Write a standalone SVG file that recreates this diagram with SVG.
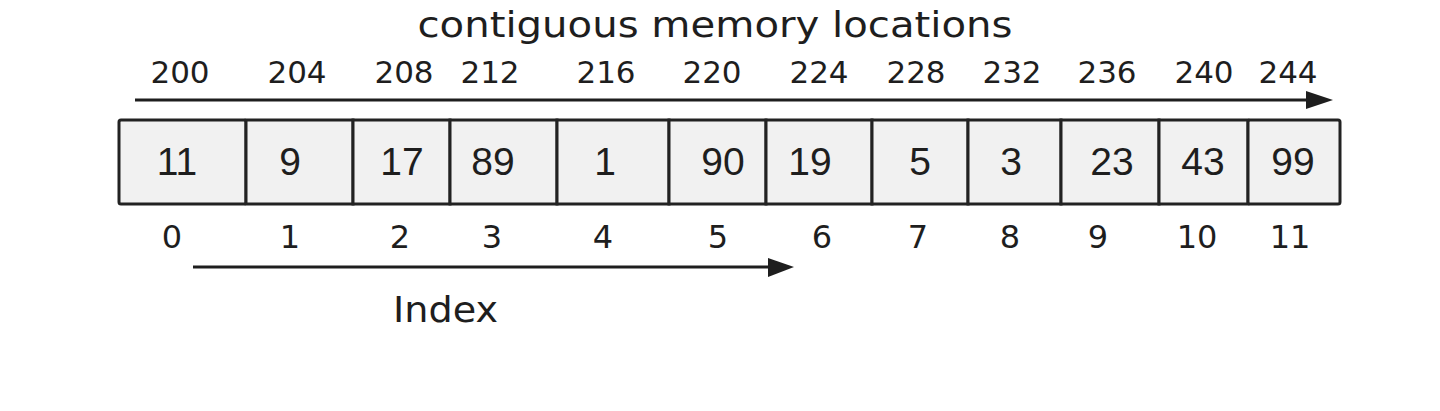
<svg xmlns="http://www.w3.org/2000/svg" width="1440" height="411" viewBox="0 0 1440 411">
<style>
.cell{fill:#f1f1f1;stroke:#222;stroke-width:3}
.val{font-family:"Liberation Sans",Arial,sans-serif;font-size:39px;fill:#1e1e1e;text-anchor:middle}
.addr{font-family:"DejaVu Sans",sans-serif;font-size:31px;fill:#1e1e1e;text-anchor:middle}
.idx{font-family:"DejaVu Sans",sans-serif;font-size:32px;fill:#1e1e1e;text-anchor:middle}
.lbl{font-family:"DejaVu Sans",sans-serif;fill:#1e1e1e}
.conn{stroke:#1e1e1e;stroke-width:3;fill:none}
.head{fill:#1e1e1e}
</style>
<rect width="1440" height="411" fill="#ffffff"/>
<g id="title"><text class="lbl" x="715" y="37" font-size="35" text-anchor="middle" textLength="595" lengthAdjust="spacingAndGlyphs">contiguous memory locations</text></g>
<g id="addresses">
<text class="addr" x="180" y="83">200</text>
<text class="addr" x="297" y="83">204</text>
<text class="addr" x="404" y="83">208</text>
<text class="addr" x="490" y="83">212</text>
<text class="addr" x="606" y="83">216</text>
<text class="addr" x="712" y="83">220</text>
<text class="addr" x="819" y="83">224</text>
<text class="addr" x="916" y="83">228</text>
<text class="addr" x="1012" y="83">232</text>
<text class="addr" x="1107" y="83">236</text>
<text class="addr" x="1204" y="83">240</text>
<text class="addr" x="1288" y="83">244</text>
</g>
<g id="connectors">
<line class="conn" x1="135" y1="100" x2="1308" y2="100"/>
<path class="head" d="M1306,91 L1333,100 L1306,109 Z"/>
<line class="conn" x1="193" y1="267" x2="770" y2="267"/>
<path class="head" d="M768,258 L794,267 L768,277 Z"/>
</g>
<g id="cell0"><rect class="cell" x="119" y="120" width="127" height="84" rx="2"/><text class="val" x="177" y="175">11</text></g>
<g id="cell1"><rect class="cell" x="246" y="120" width="107" height="84"/><text class="val" x="290" y="175">9</text></g>
<g id="cell2"><rect class="cell" x="353" y="120" width="97" height="84"/><text class="val" x="402" y="175">17</text></g>
<g id="cell3"><rect class="cell" x="450" y="120" width="107" height="84"/><text class="val" x="493" y="175">89</text></g>
<g id="cell4"><rect class="cell" x="557" y="120" width="112" height="84"/><text class="val" x="605" y="175">1</text></g>
<g id="cell5"><rect class="cell" x="669" y="120" width="97" height="84"/><text class="val" x="723" y="175">90</text></g>
<g id="cell6"><rect class="cell" x="766" y="120" width="106" height="84"/><text class="val" x="810" y="175">19</text></g>
<g id="cell7"><rect class="cell" x="872" y="120" width="96" height="84"/><text class="val" x="920" y="175">5</text></g>
<g id="cell8"><rect class="cell" x="968" y="120" width="93" height="84"/><text class="val" x="1011" y="175">3</text></g>
<g id="cell9"><rect class="cell" x="1061" y="120" width="98" height="84"/><text class="val" x="1112" y="175">23</text></g>
<g id="cell10"><rect class="cell" x="1159" y="120" width="89" height="84"/><text class="val" x="1203" y="175">43</text></g>
<g id="cell11"><rect class="cell" x="1248" y="120" width="92" height="84" rx="2"/><text class="val" x="1293" y="175">99</text></g>
<g id="indices">
<text class="idx" x="172" y="248">0</text>
<text class="idx" x="290" y="248">1</text>
<text class="idx" x="400" y="248">2</text>
<text class="idx" x="492" y="248">3</text>
<text class="idx" x="603" y="248">4</text>
<text class="idx" x="718" y="248">5</text>
<text class="idx" x="822" y="248">6</text>
<text class="idx" x="918" y="248">7</text>
<text class="idx" x="1010" y="248">8</text>
<text class="idx" x="1098" y="248">9</text>
<text class="idx" x="1197" y="248">10</text>
<text class="idx" x="1290" y="248">11</text>
</g>
<g id="index-label"><text class="lbl" x="393" y="322" font-size="36" textLength="105" lengthAdjust="spacingAndGlyphs">Index</text></g>
</svg>
